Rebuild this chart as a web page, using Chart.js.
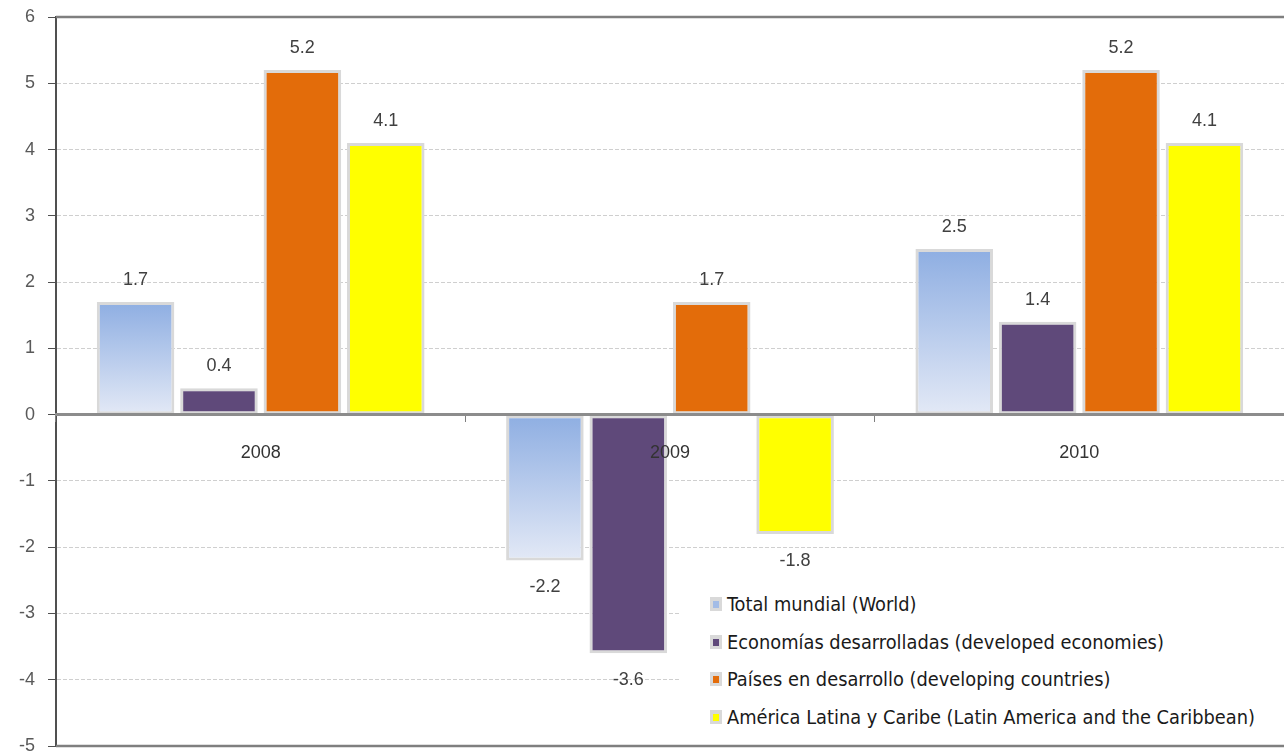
<!DOCTYPE html>
<html>
<head>
<meta charset="utf-8">
<script src="https://cdn.jsdelivr.net/npm/chart.js@4.4.1/dist/chart.umd.min.js"></script>
<style>
  html, body { margin:0; padding:0; background:#fff; }
  #wrap { position:relative; width:1284px; height:756px; overflow:hidden; }
  #legend { position:absolute; left:680px; top:585px; width:604px; height:155px; background:#fff;
            font-family:"DejaVu Sans Condensed","Liberation Sans Narrow",sans-serif; font-size:20px; color:#1a1a1a; }
  .item { position:absolute; left:30px; height:26px; line-height:26px; white-space:nowrap; }
  .mk { position:absolute; left:0; top:6px; width:12px; height:14px; background:#d9d9d9; }
  .mk i { position:absolute; left:3px; top:4px; width:6px; height:7px; }
  .tx { position:absolute; left:17px; top:0; transform-origin:0 50%; }
</style>
</head>
<body>
<div id="wrap">
  <canvas id="c" width="1284" height="756"></canvas>
  <div id="legend"></div>
</div>
<script>
const categories = ["2008", "2009", "2010"];
const seriesNames = [
  "Total mundial (World)",
  "Economías desarrolladas (developed economies)",
  "Países en desarrollo (developing countries)",
  "América Latina y Caribe (Latin America and the Caribbean)"
];
const world = [1.7, -2.2, 2.5];
const developed = [0.4, -3.6, 1.4];
const developing = [5.2, 1.7, 5.2];
const latam = [4.1, -1.8, 4.1];
const yTicks = [-5, -4, -3, -2, -1, 0, 1, 2, 3, 4, 5, 6];

const seriesColors = ["#a3bce6", "#5f497a", "#e36c0a", "#ffff00"];

function worldGradient(ctx) {
  const chart = ctx.chart;
  if (!chart.chartArea || ctx.type !== 'data') return seriesColors[0];
  const v = ctx.raw;
  const y = chart.scales.y;
  const top = y.getPixelForValue(Math.max(v, 0));
  const bot = y.getPixelForValue(Math.min(v, 0));
  const g = chart.ctx.createLinearGradient(0, top, 0, bot);
  g.addColorStop(0, '#8eaee2');
  g.addColorStop(1, '#e3e9f6');
  return g;
}

const valueLabels = {
  id: 'valueLabels',
  afterDraw(chart) {
    const c = chart.ctx;
    c.save();
    c.font = '18px "Liberation Sans", Arial, sans-serif';
    c.fillStyle = '#404040';
    c.textAlign = 'center';
    c.textBaseline = 'middle';
    chart.data.datasets.forEach((ds, di) => {
      const meta = chart.getDatasetMeta(di);
      meta.data.forEach((el, i) => {
        const v = ds.data[i];
        const yy = v >= 0 ? el.y - 22 : el.y + 27;
        c.fillText(v.toFixed(1), el.x, yy);
      });
    });
    c.restore();
  }
};

const frame = {
  id: 'frame',
  afterDraw(chart) {
    const a = chart.chartArea, c = chart.ctx;
    c.save();
    c.strokeStyle = '#7f7f7f';
    c.lineWidth = 2.5;
    c.beginPath();
    c.moveTo(a.left, a.top); c.lineTo(a.right, a.top);
    c.moveTo(a.left, a.bottom); c.lineTo(a.right, a.bottom);
    c.stroke();
    c.restore();
  }
};

const datasets = [world, developed, developing, latam].map((d, i) => ({
  label: seriesNames[i],
  data: d,
  backgroundColor: i === 0 ? worldGradient : seriesColors[i],
  borderColor: '#d9d9d9',
  borderWidth: 3,
  borderSkipped: false,
  categoryPercentage: 0.815,
  barPercentage: 0.93
}));

new Chart(document.getElementById('c'), {
  type: 'bar',
  data: { labels: categories, datasets },
  options: {
    responsive: false,
    animation: false,
    layout: { padding: { top: 17, right: 0, bottom: 10, left: 0 } },
    plugins: { legend: { display: false }, tooltip: { enabled: false } },
    scales: {
      x: {
        position: { y: 0 },
        grid: { z: 1, offset: true, drawOnChartArea: false, tickLength: 6, color: '#7f7f7f', lineWidth: 1 },
        border: { z: 1, color: '#8c8c8c', width: 3 },
        ticks: { z: 1, padding: 22, color: '#333333', font: { family: '"Liberation Sans", Arial, sans-serif', size: 18 } },
        afterFit: s => { s.paddingLeft = 0; s.paddingRight = 0; }
      },
      y: {
        min: -5, max: 6,
        afterBuildTicks: s => { s.ticks = yTicks.map(v => ({ value: v })); },
        afterFit: s => { s.width = 56; s.paddingTop = 0; s.paddingBottom = 0; },
        grid: { color: '#cfcfcf', tickColor: '#505050', tickLength: 8, lineWidth: 1 },
        border: { color: '#505050', width: 2, dash: [4, 2] },
        ticks: { padding: 13, color: '#595959', font: { family: '"Liberation Sans", Arial, sans-serif', size: 18 } }
      }
    }
  },
  plugins: [valueLabels, frame]
});

const lg = document.getElementById('legend');
const texts = [];
seriesNames.forEach((n, i) => {
  const d = document.createElement('div');
  d.className = 'item';
  d.style.top = (6 + i * 37.7) + 'px';
  const mk = document.createElement('span');
  mk.className = 'mk';
  const inner = document.createElement('i');
  inner.style.background = seriesColors[i];
  mk.appendChild(inner);
  d.appendChild(mk);
  const t = document.createElement('span');
  t.className = 'tx';
  t.textContent = n;
  d.appendChild(t);
  lg.appendChild(d);
  texts.push(t);
});
const maxW = Math.max(...texts.map(t => t.getBoundingClientRect().width));
const k = 528 / maxW;
texts.forEach(t => { t.style.transform = 'scaleX(' + k + ')'; });
</script>
</body>
</html>
